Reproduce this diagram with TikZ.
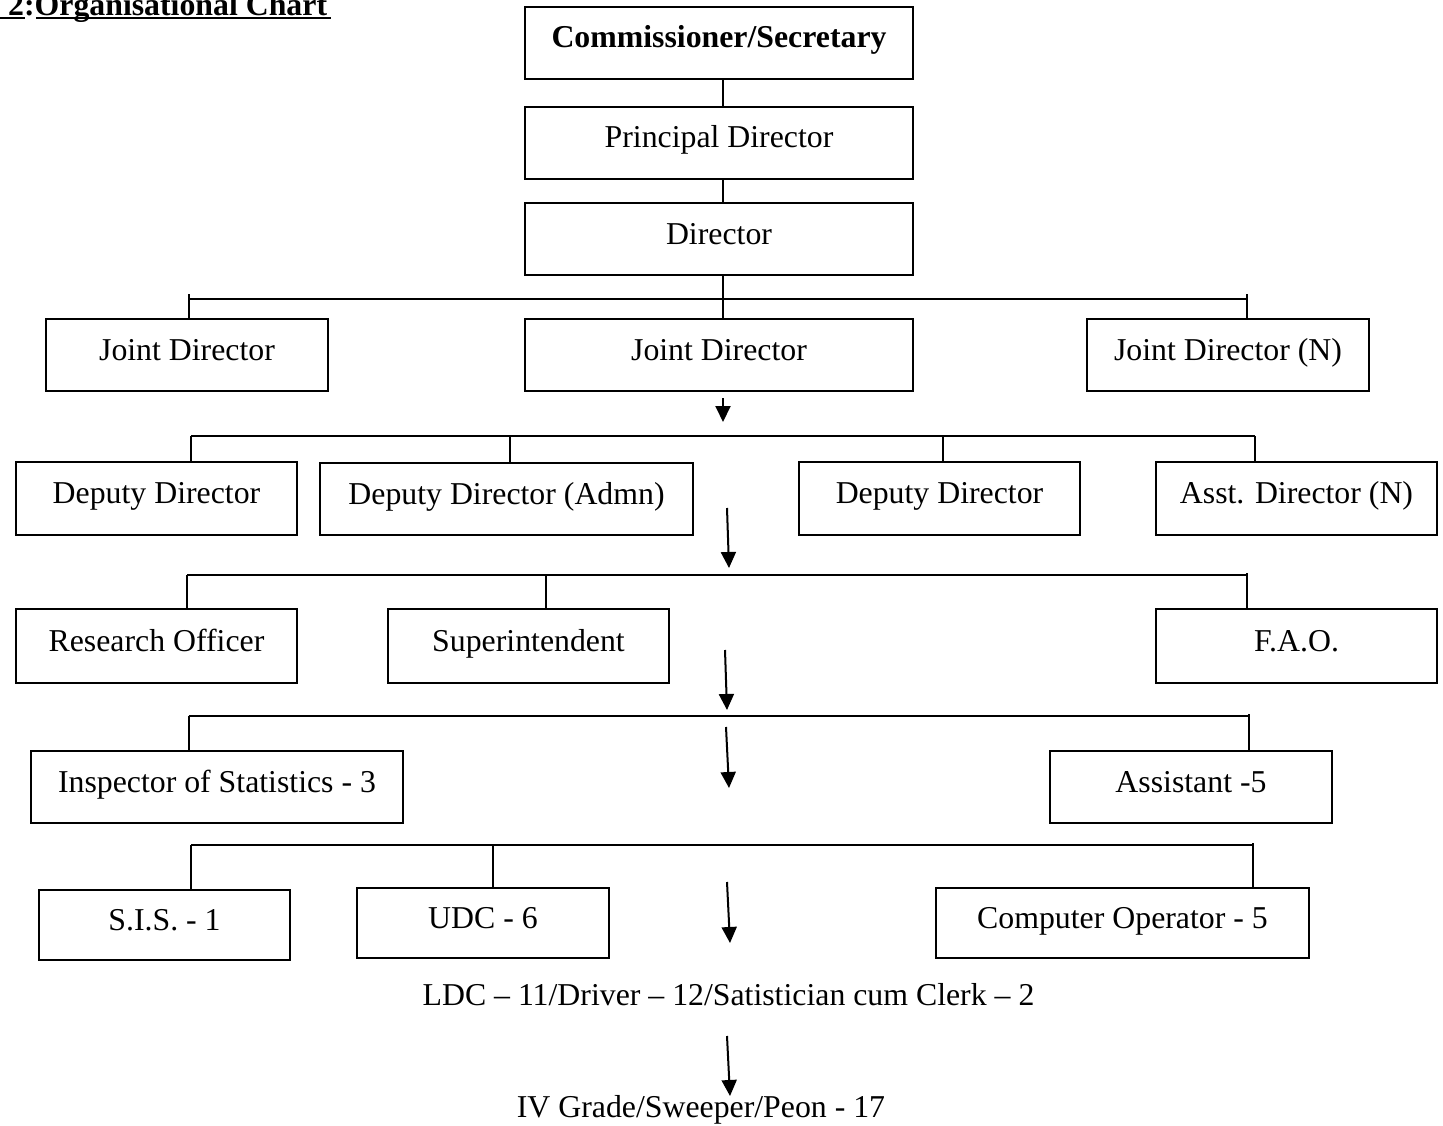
\documentclass[tikz,border=0pt]{standalone}
\usepackage{fontspec}
\setmainfont{Liberation Serif}
\usetikzlibrary{arrows.meta}
\begin{document}
\begin{tikzpicture}[x=1pt,y=-1pt,
  box/.style={draw, line width=2pt, inner sep=0pt, text height=20pt, text depth=10pt, align=center},
  lbl/.style={inner sep=0pt, anchor=base},
  ln/.style={line width=2pt},
  arr/.style={line width=2pt, -{Triangle[length=16pt,width=15pt]}}]
\useasboundingbox (0,0) rectangle (1443,1126);
\fontsize{31.8}{38}\selectfont
% title
\node[inner sep=0pt, anchor=base west] (title) at (8,15.5) {\bfseries 2:Organisational Chart};
\fill (0,17) rectangle (25,19.5);
\fill (36,17) rectangle (331,19.5);
% boxes
\node[box, minimum width=388pt, minimum height=72pt] (cs) at (719,43) {\bfseries Commissioner/Secretary};
\node[box, minimum width=388pt, minimum height=72pt] (pd) at (719,143) {Principal Director};
\node[box, minimum width=388pt, minimum height=72pt] (dir) at (719,239) {Director};
\node[box, minimum width=282pt, minimum height=72pt] (jd1) at (187,355) {Joint Director};
\node[box, minimum width=388pt, minimum height=72pt] (jd2) at (719,355) {Joint Director};
\node[box, minimum width=282pt, minimum height=72pt] (jdn) at (1228,355) {Joint Director (N)};
\node[box, minimum width=281pt, minimum height=73pt] (dd1) at (156.5,498.5) {Deputy Director};
\node[box, minimum width=373pt, minimum height=72pt] (dda) at (506.5,499) {Deputy Director (Admn)};
\node[box, minimum width=281pt, minimum height=73pt] (dd2) at (939.5,498.5) {Deputy Director};
\node[box, minimum width=281pt, minimum height=73pt] (adn) at (1296.5,498.5) {Asst. Director (N)};
\node[box, minimum width=281pt, minimum height=74pt] (ro) at (156.5,646) {Research Officer};
\node[box, minimum width=281pt, minimum height=74pt] (sup) at (528.5,646) {Superintendent};
\node[box, minimum width=281pt, minimum height=74pt] (fao) at (1296.5,646) {F.A.O.};
\node[box, minimum width=372pt, minimum height=72pt] (ins) at (217,787) {Inspector of Statistics - 3};
\node[box, minimum width=282pt, minimum height=72pt] (asst) at (1191,787) {Assistant -5};
\node[box, minimum width=251pt, minimum height=70pt] (sis) at (164.5,925) {S.I.S. - 1};
\node[box, minimum width=252pt, minimum height=70pt] (udc) at (483,923) {UDC - 6};
\node[box, minimum width=373pt, minimum height=70pt] (cop) at (1122.5,923) {Computer Operator - 5};
\node[lbl] (ldc) at (728.5,1005) {LDC – 11/Driver – 12/Satistician cum Clerk – 2};
\node[lbl] (iv) at (701,1117) {IV Grade/Sweeper/Peon - 17};
% top chain
\draw[ln] ([xshift=4pt]cs.south) -- ([xshift=4pt]pd.north);
\draw[ln] ([xshift=4pt]pd.south) -- ([xshift=4pt]dir.north);
\draw[ln] ([xshift=4pt]dir.south) -- ([xshift=4pt]jd2.north);
% bus 1
\coordinate (b1l) at (189,299);
\coordinate (b1r) at (1247,299);
\draw[ln] (b1l) -- (b1r);
\draw[ln] ([yshift=5pt]b1l) -- (b1l |- jd1.north);
\draw[ln] ([yshift=5pt]b1r) -- (b1r |- jdn.north);
% bus 2
\coordinate (b2l) at (191,436);
\coordinate (b2a) at (510,436);
\coordinate (b2b) at (943,436);
\coordinate (b2r) at (1255,436);
\draw[ln] (b2l) -- (b2r);
\draw[ln] (b2l) -- (b2l |- dd1.north);
\draw[ln] (b2a) -- (b2a |- dda.north);
\draw[ln] (b2b) -- (b2b |- dd2.north);
\draw[ln] (b2r) -- (b2r |- adn.north);
% bus 3
\coordinate (b3l) at (187,575);
\coordinate (b3a) at (546,575);
\coordinate (b3r) at (1247,575);
\draw[ln] (b3l) -- (b3r);
\draw[ln] (b3l) -- (b3l |- ro.north);
\draw[ln] (b3a) -- (b3a |- sup.north);
\draw[ln] ([yshift=2pt]b3r) -- (b3r |- fao.north);
% bus 4
\coordinate (b4l) at (188.5,716);
\coordinate (b4r) at (1249,716);
\draw[ln] (b4l) -- (b4r);
\draw[ln] (b4l) -- (b4l |- ins.north);
\draw[ln] ([yshift=2pt]b4r) -- (b4r |- asst.north);
% bus 5
\coordinate (b5l) at (191,845);
\coordinate (b5a) at (493,845);
\coordinate (b5r) at (1252.5,845);
\draw[ln] (b5l) -- (b5r);
\draw[ln] (b5l) -- (b5l |- sis.north);
\draw[ln] (b5a) -- (b5a |- udc.north);
\draw[ln] ([yshift=2pt]b5r) -- (b5r |- cop.north);
% arrows
\coordinate (a1s) at (723,398); \coordinate (a1e) at (723,422);
\coordinate (a2s) at (727,508); \coordinate (a2e) at (729,568);
\coordinate (a3s) at (725,650); \coordinate (a3e) at (727,710);
\coordinate (a4s) at (726,727); \coordinate (a4e) at (729,788);
\coordinate (a5s) at (727,882); \coordinate (a5e) at (730,943);
\coordinate (a6s) at (727,1036); \coordinate (a6e) at (730,1096);
\draw[arr] (a1s) -- (a1e);
\draw[arr] (a2s) -- (a2e);
\draw[arr] (a3s) -- (a3e);
\draw[arr] (a4s) -- (a4e);
\draw[arr] (a5s) -- (a5e);
\draw[arr] (a6s) -- (a6e);
\end{tikzpicture}
\end{document}
